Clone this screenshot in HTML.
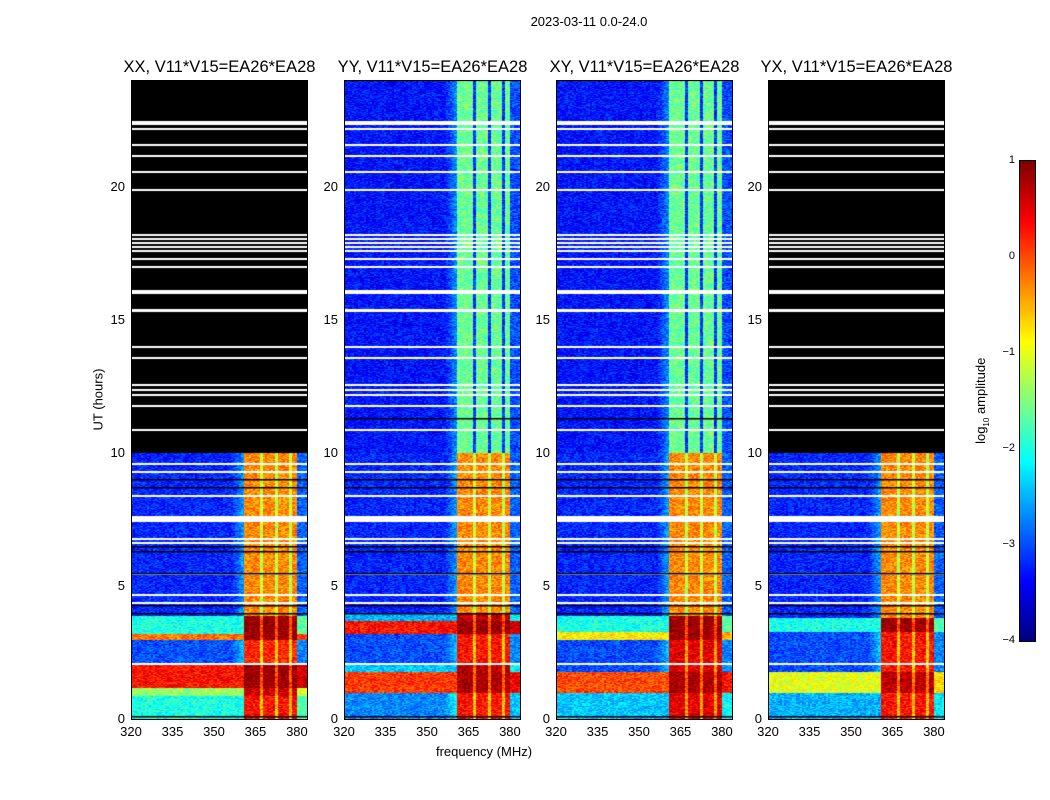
<!DOCTYPE html>
<html><head><meta charset="utf-8">
<style>
body{margin:0;background:#fff;width:1050px;height:800px;position:relative;overflow:hidden;font-family:"Liberation Sans","DejaVu Sans",sans-serif;}
.t{position:absolute;white-space:nowrap;color:#000;}
canvas{position:absolute;}
.frame{position:absolute;border:1px solid #000;box-sizing:border-box;}
</style></head>
<body>
<div class="t" style="left:489px;top:14px;width:200px;text-align:center;font-size:13px;">2023-03-11 0.0-24.0</div>
<div class="t" style="left:48px;top:392px;width:100px;text-align:center;font-size:13px;transform:rotate(-90deg);">UT (hours)</div>
<div class="t" style="left:384px;top:744px;width:200px;text-align:center;font-size:13px;">frequency (MHz)</div>
<div id="root"></div>
<canvas id="cbar" width="15" height="480" style="left:1019px;top:160px;border:1px solid #000;box-sizing:content-box;"></canvas>
<div class="t" style="left:922px;top:392px;width:120px;text-align:center;font-size:13px;transform:rotate(-90deg);">log<sub style="font-size:8px">10</sub> amplitude</div>
<script>
// ---- data ----
const panelTitles = ["XX, V11*V15=EA26*EA28","YY, V11*V15=EA26*EA28","XY, V11*V15=EA26*EA28","YX, V11*V15=EA26*EA28"];
const panelLefts = [131,344,556,768];
const xTicks = [320,335,350,365,380];
const yTicks = [0,5,10,15,20];
const cbarTicks = [1,0,-1,-2,-3,-4];
const bandStart = 360.5, bandEnd = 380;
const bandGaps = [367, 372.5, 377.5];
const blackAbove = [10, null, null, 10];
// [tStart, tEnd, backgroundLevel, bandLevel]
const segXX = [[0,0.9,-2.0,0.3],[0.9,1.2,-1.4,0.6],[1.2,2.1,0.3,0.9],[2.1,3.0,-3.0,0.2],[3.0,3.2,-0.2,0.9],[3.2,3.9,-2.0,0.9],[3.9,10,-3.2,-0.3]];
const segYY = [[0,1.0,-2.7,0.3],[1.0,1.8,0.1,0.8],[1.8,2.1,-2.4,0.7],[2.1,3.2,-3.0,0.3],[3.2,3.7,0.3,0.9],[3.7,4.0,-2.5,0.7],[4,10,-3.2,-0.3],[10,24,-3.3,-1.6]];
const segXY = [[0,1.0,-2.4,0.5],[1.0,1.8,0.0,0.8],[1.8,3.0,-3.0,0.5],[3.0,3.3,-0.8,0.9],[3.3,3.9,-2.0,0.9],[3.9,10,-3.2,-0.3],[10,24,-3.3,-1.6]];
const segYX = [[0,1.0,-2.5,0.3],[1.0,1.8,-1.0,0.7],[1.8,3.3,-3.0,0.3],[3.3,3.8,-2.0,0.9],[3.8,10,-3.2,-0.3]];
const segments = [segXX, segYY, segXY, segYX];
const whiteLines = [22.45,22.4,22.2,21.6,21.2,20.6,19.9,18.2,18.05,17.9,17.75,17.6,17.3,17.0,16.1,16.05,15.4,15.35,14.0,13.6,12.6,12.4,12.2,11.8,10.9,9.6,9.3,8.4,7.62,7.55,7.48,6.8,6.65,5.5,4.7,4.4,2.1];
const blackLines = [11.3,9.0,8.7,6.5,6.3,5.5,4.3,4.0,0.1];

// ---- helpers ----
const W = 177, H = 639, TOP = 80;
const fx = f => (f - 320) / 64 * W;
const ty = t => H - t / 24 * H;
function jet(v){
  const c = x => Math.max(0, Math.min(1, x));
  const r = c(1.5 - Math.abs(4*v - 3)), g = c(1.5 - Math.abs(4*v - 2)), b = c(1.5 - Math.abs(4*v - 1));
  return [r*255|0, g*255|0, b*255|0];
}
const lvl = L => Math.max(0, Math.min(1, (L + 4) / 5));
function hash(x,y){let h=(x*374761393+y*668265263)|0;h=(h^(h>>>13))*1274126177|0;return ((h^(h>>>16))>>>0)/4294967295;}

const root = document.getElementById('root');
panelLefts.forEach((x0, p) => {
  const title = document.createElement('div');
  title.className = 't';
  
  
  title.style.cssText = `left:${x0-30}px;top:58px;width:${W+60}px;text-align:center;font-size:16.5px;`;
  title.textContent = panelTitles[p];
  root.appendChild(title);

  const cv = document.createElement('canvas');
  cv.width = W; cv.height = H;
  cv.style.left = x0 + 'px'; cv.style.top = TOP + 'px';
  
  
  root.appendChild(cv);
  const ctx = cv.getContext('2d');
  const img = ctx.createImageData(W, H);
  const segs = segments[p];
  const bx0 = fx(bandStart), bx1 = fx(bandEnd);
  const gapsX = bandGaps.map(fx);
  for (let y = 0; y < H; y++) {
    const t = (H - y) / H * 24;
    let seg = segs.find(s => t >= s[0] && t < s[1]);
    for (let x = 0; x < W; x++) {
      let col;
      if (!seg) { col = [0,0,0]; }
      else {
        const n = (hash((x>>1)+p*1000, y) - 0.5) * 0.7;
        let L;
        if (x >= bx0 && x < bx1) {
          L = seg[3];
          if (gapsX.some(g => Math.abs(x - g) < 1.2)) L -= (seg[3] < -1 ? 1.5 : 0.9);
        } else if (x >= bx1) {
          L = seg[2] + 0.3;
        } else {
          L = seg[2];
          const ramp = (x - (bx0 - 12)) / 12;
          if (ramp > 0 && seg[2] < -2.5) L += ramp * 0.6;
        }
        col = jet(lvl(L + n));
      }
      const i = (y*W + x)*4;
      img.data[i]=col[0]; img.data[i+1]=col[1]; img.data[i+2]=col[2]; img.data[i+3]=255;
    }
  }
  ctx.putImageData(img, 0, 0);
  ctx.fillStyle = '#fff';
  whiteLines.forEach(h => ctx.fillRect(0, Math.round(ty(h)), W, 2));
  ctx.fillStyle = '#000';
  blackLines.forEach(h => { if (!blackAbove[p] || h < blackAbove[p]) ctx.fillRect(0, Math.round(ty(h)), W, 1.5); });

  const fr = document.createElement('div');
  fr.className = 'frame';
  
  
  fr.style.cssText = `left:${x0}px;top:${TOP}px;width:${W}px;height:${H+1}px;`;
  root.appendChild(fr);

  xTicks.forEach(v => {
    const l = document.createElement('div');
    l.className = 't';
    
    
    l.style.cssText = `left:${x0+fx(v)-20}px;top:724px;width:40px;text-align:center;font-size:13px;`;
    l.textContent = v;
    root.appendChild(l);
  });
  yTicks.forEach(v => {
    const l = document.createElement('div');
    l.className = 't';
    
    
    l.style.cssText = `left:${x0-46}px;top:${TOP+ty(v)-8}px;width:40px;text-align:right;font-size:13px;`;
    l.textContent = v;
    root.appendChild(l);
  });
});

// colorbar
const cb = document.getElementById('cbar').getContext('2d');
for (let y = 0; y < 480; y++) { const c = jet(1 - y/480); cb.fillStyle = `rgb(${c[0]},${c[1]},${c[2]})`; cb.fillRect(0, y, 15, 1); }
cbarTicks.forEach(v => {
  const l = document.createElement('div');
  l.className = 't';
  
  
  l.style.cssText = `left:985px;top:${160 + (1-v)/5*480 - 6}px;width:30px;text-align:right;font-size:11px;`;
  l.textContent = v < 0 ? '\u2212' + (-v) : v;
  root.appendChild(l);
});
</script>
</body></html>
